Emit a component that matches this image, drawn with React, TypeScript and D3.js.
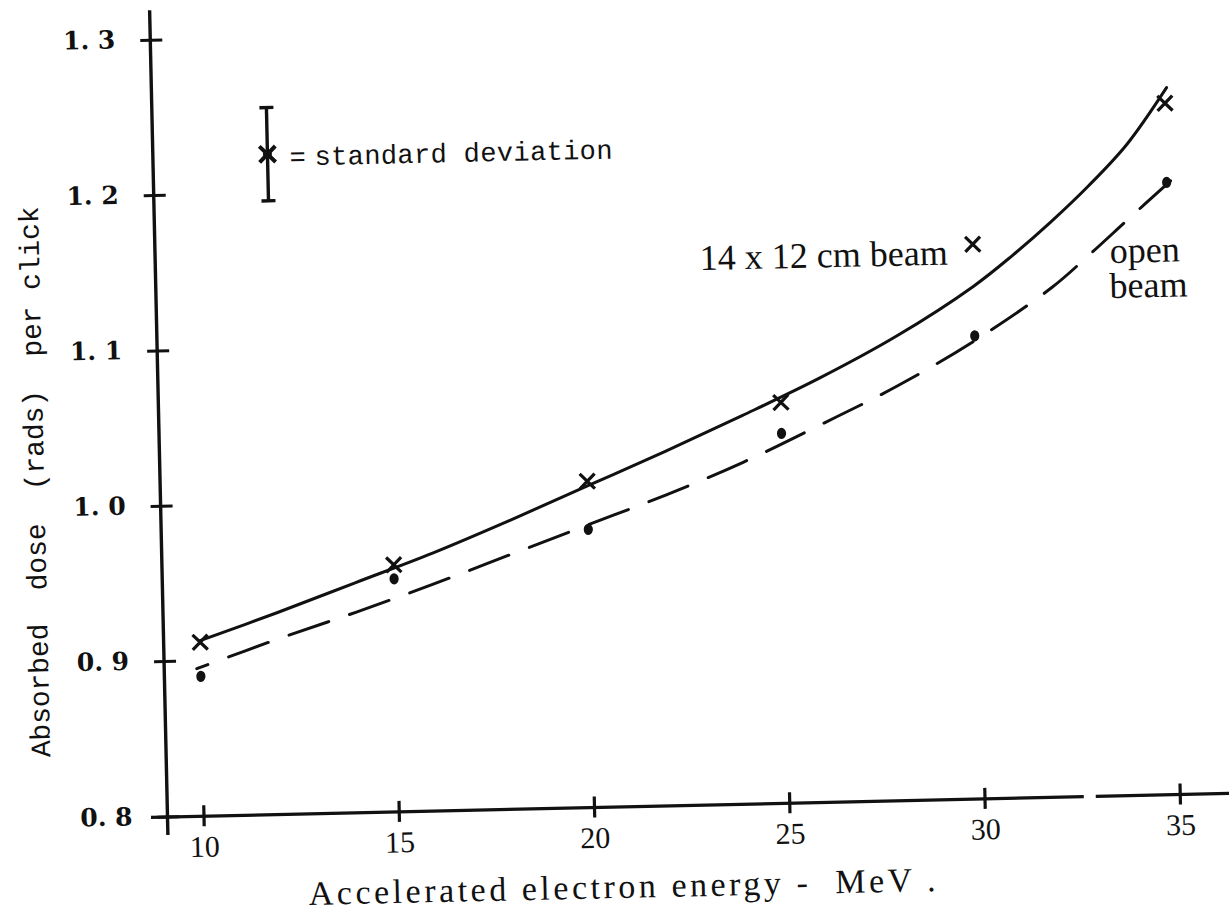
import React from 'react';
import * as d3 from 'd3';

// ---- data ----
const energies = [10, 15, 20, 25, 30, 35];
const beam14x12 = [0.912, 0.959, 1.010, 1.058, 1.157, 1.245];
const openBeam = [0.890, 0.950, 0.979, 1.038, 1.098, 1.194];

const solidCurveE = [10, 12, 14, 16, 18, 20, 22, 24, 26, 28, 30, 31, 32, 33, 34, 35.05];
const solidCurveV = [0.913, 0.930, 0.948, 0.966, 0.986, 1.007, 1.028, 1.050, 1.073, 1.099, 1.130, 1.149, 1.170, 1.193, 1.219, 1.255];

const dashedCurveE = [9.9, 12, 14, 16, 18, 20, 22, 24, 26, 28, 30, 32, 33, 34, 35.1];
const dashedCurveV = [0.895, 0.913, 0.929, 0.946, 0.964, 0.982, 1.000, 1.020, 1.043, 1.067, 1.095, 1.128, 1.149, 1.171, 1.195];

const xTicks = [10, 15, 20, 25, 30, 35];
const xTickLabels = ['10', '15', '20', '25', '30', '35'];
const yTicks = [0.8, 0.9, 1.0, 1.1, 1.2, 1.3];
const yTickLabels = ['0. 8', '0. 9', '1. 0', '1. 1', '1. 2', '1. 3'];

const legendStd = { e: 12, v: 1.225, sd: 0.03 };

const xTitle = 'Accelerated electron energy -  MeV .';
const yTitle = 'Absorbed  dose  (rads)  per click';
const seriesLabel1 = '14 x 12 cm beam';
const seriesLabel2 = ['open', 'beam'];
const legendText = 'standard deviation';

const INK = '#111';

function xMark(cx: number, cy: number, s: number) {
  return `M${cx - s},${cy - s}L${cx + s},${cy + s}M${cx - s},${cy + s}L${cx + s},${cy - s}`;
}

export default function App() {
  const W = 1229;
  const H = 916;
  const x = d3.scaleLinear().domain([10, 35]).range([204, 1180.5]);
  const y = d3.scaleLinear().domain([0.8, 1.3]).range([817, 40]);
  const axisX = 167.5;
  const y0 = y(0.8);

  const line = d3
    .line<[number, number]>()
    .x((d) => x(d[0]))
    .y((d) => y(d[1]))
    .curve(d3.curveCatmullRom.alpha(0.5));

  const solidPath = line(solidCurveE.map((e, i) => [e, solidCurveV[i]] as [number, number])) || '';
  const dashedPath = line(dashedCurveE.map((e, i) => [e, dashedCurveV[i]] as [number, number])) || '';

  const serif = '"Liberation Serif", "Times New Roman", serif';
  const mono = '"Liberation Mono", "DejaVu Sans Mono", monospace';
  const slab = '"DejaVu Serif", serif';

  const lx = x(legendStd.e);
  const lTop = y(legendStd.v + legendStd.sd);
  const lBot = y(legendStd.v - legendStd.sd);
  const lMid = y(legendStd.v);

  return (
    <div style={{ position: 'absolute', left: 0, top: 0 }}>
      <svg width={W} height={H} style={{ display: 'block', background: '#fff' }}>
        <rect width={W} height={H} fill="#fff" />
        <g transform={`rotate(-1.27 ${axisX} ${y0})`}>
          {/* y axis */}
          <line x1={axisX} y1={10} x2={axisX} y2={835} stroke={INK} strokeWidth={3.4} />
          {yTicks.map((t) => (
            <line key={'yt' + t} x1={axisX - 10} x2={axisX + 12} y1={y(t)} y2={y(t)} stroke={INK} strokeWidth={3} />
          ))}
          {yTicks.map((t, i) => (
            <text
              key={'yl' + t}
              x={132.5}
              y={y(t) - 1}
              textAnchor="end"
              dominantBaseline="central"
              fontFamily={slab}
              fontSize={25}
              fontWeight="bold"
              fill={INK}
              style={{ whiteSpace: 'pre' }}
            >
              {yTickLabels[i]}
            </text>
          ))}

          {/* x axis (scan has a small break near the right end) */}
          <line x1={151} x2={1084} y1={y0} y2={y0} stroke={INK} strokeWidth={3.2} />
          <line x1={1096} x2={1262} y1={y0} y2={y0} stroke={INK} strokeWidth={3.2} />
          {xTicks.map((t) => (
            <line key={'xt' + t} x1={x(t)} x2={x(t)} y1={y0 - 11} y2={y0 + 10} stroke={INK} strokeWidth={3.2} />
          ))}
          {xTicks.map((t, i) => (
            <text
              key={'xl' + t}
              x={x(t)}
              y={y0 + 30}
              textAnchor="middle"
              dominantBaseline="central"
              fontFamily={serif}
              fontSize={30}
              fill={INK}
            >
              {xTickLabels[i]}
            </text>
          ))}

          {/* axis titles */}
          <text
            x={307}
            y={908}
            fontFamily={serif}
            fontSize={34}
            fill={INK}
            textLength={627}
            lengthAdjust="spacing"
            style={{ whiteSpace: 'pre' }}
          >
            {xTitle}
          </text>
          <text
            transform={`translate(44,479) rotate(-90)`}
            textAnchor="middle"
            dominantBaseline="central"
            fontFamily={mono}
            fontSize={28}
            fill={INK}
            textLength={551}
            lengthAdjust="spacing"
            style={{ whiteSpace: 'pre' }}
          >
            {yTitle}
          </text>

          {/* curves */}
          <path d={solidPath} fill="none" stroke={INK} strokeWidth={3} strokeLinecap="round" />
          <path
            d={dashedPath}
            fill="none"
            stroke={INK}
            strokeWidth={3}
            strokeDasharray="42 22"
            strokeDashoffset={30}
            strokeLinecap="round"
          />

          {/* 14 x 12 cm beam points (crosses) */}
          {energies.map((e, i) => (
            <path key={'x' + e} d={xMark(x(e), y(beam14x12[i]), 7.5)} stroke={INK} strokeWidth={3.2} fill="none" />
          ))}
          {/* open beam points (dots) */}
          {energies.map((e, i) => (
            <ellipse key={'d' + e} cx={x(e)} cy={y(openBeam[i])} rx={4.6} ry={5.6} fill={INK} />
          ))}

          {/* series labels */}
          <text x={712} y={282} fontFamily={serif} fontSize={36} fill={INK} style={{ whiteSpace: 'pre' }}>
            {seriesLabel1}
          </text>
          <text x={1122} y={284} fontFamily={serif} fontSize={36} fill={INK}>
            {seriesLabel2[0]}
          </text>
          <text x={1121} y={319} fontFamily={serif} fontSize={36} fill={INK}>
            {seriesLabel2[1]}
          </text>

          {/* standard deviation key */}
          <line x1={lx} x2={lx} y1={lTop} y2={lBot} stroke={INK} strokeWidth={3.4} />
          <line x1={lx - 7} x2={lx + 7} y1={lTop} y2={lTop} stroke={INK} strokeWidth={3.4} />
          <line x1={lx - 7} x2={lx + 7} y1={lBot} y2={lBot} stroke={INK} strokeWidth={3.4} />
          <path d={xMark(lx, lMid, 8)} stroke={INK} strokeWidth={4} fill="none" />
          <circle cx={lx} cy={lMid} r={4.5} fill={INK} />
          <text x={lx + 22} y={lMid + 5} dominantBaseline="central" fontFamily={mono} fontSize={27} fill={INK}>
            =
          </text>
          <text
            x={lx + 47}
            y={lMid + 5}
            dominantBaseline="central"
            fontFamily={mono}
            fontSize={27}
            fill={INK}
            textLength={298}
            lengthAdjust="spacing"
          >
            {legendText}
          </text>
        </g>
      </svg>
    </div>
  );
}
